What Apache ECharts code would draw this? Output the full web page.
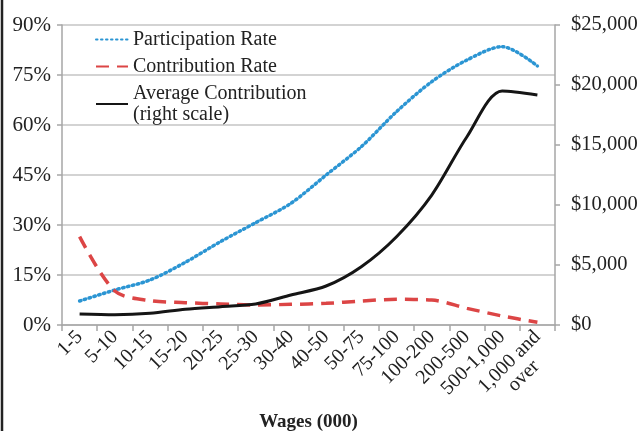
<!DOCTYPE html>
<html lang="en">

<head>
    <meta charset="UTF-8">
    <title>Participation and Contribution by Wages</title>
    <script src="https://cdn.jsdelivr.net/npm/echarts@6.0.0/dist/echarts.min.js"></script>
    <style>
        body { margin: 0; background: #fff; }
        #chart { width: 641px; height: 431px; }
    </style>
</head>

<body>
    <div id="chart"></div>
    <script>
        var myChart = echarts.init(document.getElementById('chart'));

        var wageBands = ['1-5', '5-10', '10-15', '15-20', '20-25', '25-30', '30-40', '40-50',
            '50-75', '75-100', '100-200', '200-500', '500-1,000', '1,000 and\nover'];
        // percent
        var participationRate = [7.2, 10.5, 13.5, 18.8, 25, 30.7, 36.5, 45, 53.5, 64, 73, 79.5, 83.5, 77.7];
        // percent
        var contributionRate = [26.5, 10.2, 7.3, 6.7, 6.3, 6.0, 6.2, 6.5, 7.2, 7.7, 7.5, 5.0, 2.7, 0.8];
        // dollars, right scale
        var avgContribution = [920, 860, 975, 1310, 1530, 1750, 2500, 3250, 4860, 7360, 10830, 15690, 19500, 19170];

        var serif = '"Liberation Serif", "DejaVu Serif", serif';
        var axisGray = '#a6a6a6';
        var textColor = '#222';

        var option = {
            textStyle: { fontFamily: serif },
            animation: false,
            grid: { left: 62, right: 86, top: 25, bottom: 106, outerBoundsMode: 'none' },
            legend: {
                orient: 'vertical',
                left: 90,
                top: 24,
                itemWidth: 32,
                itemHeight: 12,
                itemGap: 6,
                itemStyle: { opacity: 0 },
                textStyle: { fontFamily: serif, fontSize: 20, color: textColor, lineHeight: 21 },
                data: ['Participation Rate', 'Contribution Rate', 'Average Contribution\n(right scale)']
            },
            xAxis: {
                type: 'category',
                data: wageBands,
                boundaryGap: true,
                name: 'Wages (000)',
                nameLocation: 'middle',
                nameGap: 88,
                nameMoveOverlap: false,
                nameTextStyle: { fontFamily: serif, fontSize: 19, fontWeight: 'bold', color: textColor },
                axisLine: { lineStyle: { color: axisGray, width: 1.5 } },
                axisTick: { show: true, length: 6, lineStyle: { color: axisGray, width: 1.5 } },
                axisLabel: {
                    rotate: 45, interval: 0, margin: 9,
                    formatter: function (v) {
                        var lines = v.split('\n');
                        // keep the first line on the tick: pad a blank line above two-line labels
                        if (lines.length === 2) lines.unshift('\u00a0');
                        return lines.map(function (s) { return '{c|' + s + '}'; }).join('\n');
                    },
                    rich: {
                        c: { fontFamily: serif, fontSize: 20, color: textColor, align: 'center', lineHeight: 20 }
                    }
                }
            },
            yAxis: [
                {
                    type: 'value',
                    min: 0, max: 90, interval: 15,
                    axisLine: { show: true, lineStyle: { color: axisGray, width: 1.5 } },
                    axisTick: { show: true, length: 5, lineStyle: { color: axisGray, width: 1.5 } },
                    splitLine: { lineStyle: { color: '#c4c4c4', width: 1.5 } },
                    axisLabel: { formatter: '{value}%', fontSize: 21, color: textColor, margin: 11 }
                },
                {
                    type: 'value',
                    min: 0, max: 25000, interval: 5000,
                    position: 'right',
                    axisLine: { show: true, lineStyle: { color: axisGray, width: 1.5 } },
                    axisTick: { show: true, length: 5, lineStyle: { color: axisGray, width: 1.5 } },
                    splitLine: { show: false },
                    axisLabel: {
                        fontSize: 20.5, color: textColor, margin: 16,
                        formatter: function (v) { return '$' + v.toLocaleString('en-US'); }
                    }
                }
            ],
            series: [
                {
                    name: 'Participation Rate',
                    type: 'line',
                    data: participationRate,
                    yAxisIndex: 0,
                    symbol: 'none',
                    smooth: 0.3,
                    lineStyle: { color: '#2b95d3', width: 3.5, type: [1.5, 3.5], cap: 'round' },
                    itemStyle: { color: '#2b95d3' }
                },
                {
                    name: 'Contribution Rate',
                    type: 'line',
                    data: contributionRate,
                    yAxisIndex: 0,
                    symbol: 'none',
                    smooth: 0.3,
                    lineStyle: { color: '#dc4545', width: 3.5, type: [13, 8] },
                    itemStyle: { color: '#dc4545' }
                },
                {
                    name: 'Average Contribution\n(right scale)',
                    type: 'line',
                    data: avgContribution,
                    yAxisIndex: 1,
                    symbol: 'none',
                    smooth: 0.3,
                    lineStyle: { color: '#151515', width: 3 },
                    itemStyle: { color: '#151515' }
                }
            ],
            graphic: [
                {
                    type: 'line',
                    shape: { x1: 2, y1: 0, x2: 2, y2: 431 },
                    style: { stroke: '#222', lineWidth: 2.5 }
                }
            ]
        };

        myChart.setOption(option);
    </script>
</body>

</html>
